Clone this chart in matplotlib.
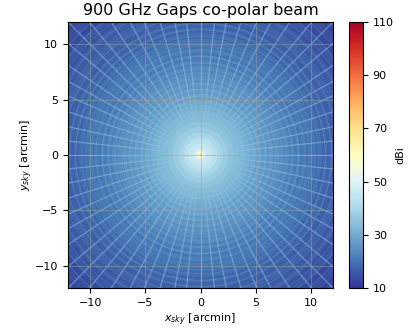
import numpy as np
import matplotlib
matplotlib.use("Agg")
import matplotlib.pyplot as plt
from matplotlib.collections import LineCollection

# Values
ring_radius = [0, .08, .16, .24, .32, .4, .5, .6, .75, .9, 1.05, 1.25, 1.5, 1.75, 2, 2.25, 2.5, 2.75, 3, 3.25, 3.5, 3.75,
               4, 4.25, 4.5, 4.75, 5, 5.25, 5.5, 5.75, 6, 6.25, 6.5, 6.75, 7, 7.25, 7.5, 7.75, 8, 8.25, 8.5, 8.75,
               9, 9.25, 9.5, 9.75, 10, 10.25, 10.5, 10.75, 11, 11.25, 11.5, 11.75, 12, 12.5, 13, 13.5, 14, 14.5, 15, 15.5, 16, 17]
ring_dbi = [73, 68, 60, 54, 50, 48, 46, 46.5, 45, 45.5, 43, 42.5, 40, 39, 37, 37.2, 35, 35, 33.5, 33.8, 32, 32.3, 30.5, 31, 29, 29.8,
            27.5, 28.5, 26.5, 27.5, 25.3, 26.5, 24.5, 25.7, 23.7, 24.8, 22.9, 24, 22, 23.2, 21.3, 22.5, 20.5, 21.7, 19.8, 21,
            19, 20.3, 18.3, 19.6, 17.7, 19, 17.1, 18.3, 16.5, 17.5, 15.5, 16.5, 14.5, 15.5, 13.5, 14.5, 12.5]
arc_radius = [4.1, 4.7, 5.3, 5.9, 6.5, 7.1, 7.7, 8.3, 8.9, 9.5, 10.1, 10.7, 11.3, 11.9, 12.5, 13.1, 13.7, 14.3, 14.9, 15.5, 16.1, 16.7]
spoke_deg = [0, 6, 12, 18, 24, 29, 34, 40, 45, 50, 56, 62, 67, 73, 79, 84,
             90, 96, 101, 107, 113, 118, 124, 130, 135, 140, 146, 151, 156, 162, 168, 174,
             180, 186, 192, 198, 204, 209, 214, 220, 225, 230, 236, 242, 247, 253, 259, 264,
             270, 276, 281, 287, 293, 298, 304, 310, 315, 320, 326, 331, 336, 342, 348, 354]
x_ticks = [-10, -5, 0, 5, 10]
cbar_ticks = [10, 30, 50, 70, 90, 110]

W, H = 411, 329
fig = plt.figure(figsize=(W / 100, H / 100), dpi=100)
ax = fig.add_axes([68 / W, 1 - 288 / H, 265 / W, 266 / H])
cax = fig.add_axes([349 / W, 1 - 288 / H, 14 / W, 266 / H])

r = np.array(ring_radius)
th = np.linspace(0, 2 * np.pi, 361)
R, T = np.meshgrid(r, th)
Z = np.tile(np.array(ring_dbi), (360, 1))
pm = ax.pcolormesh(R * np.cos(T), R * np.sin(T), Z, cmap="RdYlBu_r", vmin=10, vmax=110,
                   shading="flat", rasterized=True, antialiased=False)

light = "#8fc3de"
spokes = [[(3.5 * np.cos(np.radians(a)), 3.5 * np.sin(np.radians(a))),
           (18 * np.cos(np.radians(a)), 18 * np.sin(np.radians(a)))] for a in spoke_deg]
ax.add_collection(LineCollection(spokes, colors=light, linewidths=0.9, alpha=0.55, zorder=2))
for a in arc_radius:
    ax.plot(a * np.cos(th), a * np.sin(th), color=light, lw=0.6, alpha=0.22, zorder=2)

ax.set_xlim(-12, 12)
ax.set_ylim(-12, 12)
ax.set_xticks(x_ticks)
ax.set_yticks(x_ticks)
ax.grid(True, color="#a0a0a0", lw=0.7, alpha=0.5, zorder=3)
ax.set_axisbelow(False)
ax.tick_params(labelsize=8)
ax.set_xlabel(r"$x_{sky}$ [arcmin]", fontsize=8, labelpad=3)
ax.set_ylabel(r"$y_{sky}$ [arcmin]", fontsize=8, labelpad=0)
ax.set_title("900 GHz Gaps co-polar beam", fontsize=11.5, pad=5)

cb = fig.colorbar(pm, cax=cax, ticks=cbar_ticks)
cb.ax.tick_params(labelsize=8)
cb.set_label("dBi", fontsize=8, labelpad=1)
fig.savefig("out.png", dpi=100)
